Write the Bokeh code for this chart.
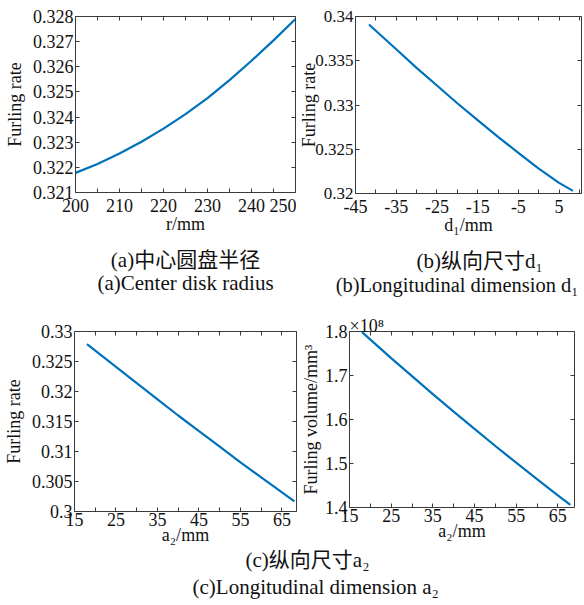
from bokeh.plotting import figure
from bokeh.models import FixedTicker, LinearAxis, Title, Range1d
from bokeh.layouts import column, row
from bokeh.embed import file_html
from bokeh.resources import INLINE

# ---------------- data ----------------
r_mm = [200, 205, 210, 215, 220, 225, 230, 235, 240, 245, 250]
rate_r = [0.32178, 0.32213, 0.32255, 0.32302, 0.32354, 0.32412, 0.32475,
          0.32547, 0.32624, 0.32705, 0.32790]

d1_mm = [-41.7, -35, -30, -25, -20, -15, -10, -5, 0, 5, 8.4]
rate_d1 = [0.3391, 0.3363, 0.3342, 0.3322, 0.3302, 0.3283, 0.3264,
           0.3246, 0.3228, 0.3212, 0.3203]

a2_mm = [18, 25, 30, 35, 40, 45, 50, 55, 60, 65, 68]
rate_a2 = [0.3279, 0.3241, 0.3214, 0.3187, 0.3160, 0.3134, 0.3108,
           0.3082, 0.3057, 0.3032, 0.3017]
vol_a2 = [1.7985e8, 1.7396e8, 1.6984e8, 1.6578e8, 1.6178e8, 1.5785e8,
          1.5398e8, 1.5018e8, 1.4644e8, 1.4277e8, 1.406e8]

r_ticks = [200, 210, 220, 230, 240, 250]
r_labels = ["200", "210", "220", "230", "240", "250"]
r_minor = [205, 215, 225, 235, 245]
rate_r_ticks = [0.321, 0.322, 0.323, 0.324, 0.325, 0.326, 0.327, 0.328]
rate_r_labels = ["0.321", "0.322", "0.323", "0.324", "0.325", "0.326", "0.327", "0.328"]

d1_ticks = [-45, -35, -25, -15, -5, 5]
d1_labels = ["-45", "-35", "-25", "-15", "-5", "5"]
d1_minor = [-40, -30, -20, -10, 0, 10]
rate_d1_ticks = [0.32, 0.325, 0.33, 0.335, 0.34]
rate_d1_labels = ["0.32", "0.325", "0.33", "0.335", "0.34"]

a2_ticks = [15, 25, 35, 45, 55, 65]
a2_labels = ["15", "25", "35", "45", "55", "65"]
a2_minor = [20, 30, 40, 50, 60]
rate_a2_ticks = [0.3, 0.305, 0.31, 0.315, 0.32, 0.325, 0.33]
rate_a2_labels = ["0.3", "0.305", "0.31", "0.315", "0.32", "0.325", "0.33"]
vol_ticks = [1.4e8, 1.5e8, 1.6e8, 1.7e8, 1.8e8]
vol_labels = ["1.4", "1.5", "1.6", "1.7", "1.8"]

SERIF = "Liberation Serif"
CJK = "Liberation Serif, Noto Sans CJK SC"
AX = "#3a3a3a"
TXT = "#111111"
LINE = "#0072BD"


def panel(x, y, xr, yr, xt, xtl, xm, yt, ytl, xlabel, ylabel,
          fw, fh, mbl, mbr, mbt, mbb, ylab_standoff=4,
          xtick_standoff=3, xlab_standoff=2, ytick_size="18px"):
    p = figure(frame_width=fw, frame_height=fh,
               x_range=Range1d(*xr), y_range=Range1d(*yr),
               x_axis_type=None, y_axis_type=None,
               output_backend="svg", toolbar_location=None,
               min_border_left=mbl, min_border_right=mbr,
               min_border_top=mbt, min_border_bottom=mbb,
               outline_line_color=None, background_fill_color="white")
    xtick = FixedTicker(ticks=xt, minor_ticks=xm)
    ytick = FixedTicker(ticks=yt, minor_ticks=[])
    common = dict(axis_line_color=AX, major_tick_line_color=AX,
                  minor_tick_line_color=AX, major_tick_in=4, major_tick_out=0,
                  minor_tick_in=4, minor_tick_out=0)
    xb = LinearAxis(ticker=xtick, axis_label=xlabel,
                    major_label_overrides={v: s for v, s in zip(xt, xtl)},
                    major_label_text_font=SERIF, major_label_text_font_size="18px",
                    major_label_text_color=TXT, major_label_standoff=xtick_standoff,
                    axis_label_text_font=SERIF, axis_label_text_font_size="18px",
                    axis_label_text_font_style="normal", axis_label_text_color=TXT,
                    axis_label_standoff=xlab_standoff, **common)
    yleft = LinearAxis(ticker=ytick, axis_label=ylabel,
                       major_label_overrides={v: s for v, s in zip(yt, ytl)},
                       major_label_text_font=SERIF, major_label_text_font_size=ytick_size,
                       major_label_text_color=TXT, major_label_standoff=2,
                       axis_label_text_font=SERIF, axis_label_text_font_size="18px",
                       axis_label_text_font_style="normal", axis_label_text_color=TXT,
                       axis_label_standoff=ylab_standoff, **common)
    # box ticks on the top and right sides (labels not drawn)
    xtop = LinearAxis(ticker=xtick, major_label_text_font_size="1px",
                      major_label_text_color=None, major_label_standoff=0,
                      axis_label_standoff=0, **common)
    yright = LinearAxis(ticker=ytick, major_label_text_font_size="1px",
                        major_label_text_color=None, major_label_standoff=0,
                        axis_label_standoff=0, **common)
    p.add_layout(xb, "below")
    p.add_layout(yleft, "left")
    p.add_layout(xtop, "above")
    p.add_layout(yright, "right")
    p.line(x, y, line_color=LINE, line_width=2.2)
    return p


pa = panel(r_mm, rate_r, (200, 250), (0.321, 0.328), r_ticks, r_labels, r_minor,
           rate_r_ticks, rate_r_labels, "r/mm", "Furling rate",
           fw=220, fh=176, mbl=75, mbr=1, mbt=16, mbb=108, ylab_standoff=5,
           xtick_standoff=6, xlab_standoff=-1)
pb = panel(d1_mm, rate_d1, (-45, 10.5), (0.32, 0.34), d1_ticks, d1_labels, d1_minor,
           rate_d1_ticks, rate_d1_labels, "d₁/mm", "Furling rate",
           fw=226, fh=177, mbl=55, mbr=7, mbt=15, mbb=108, ylab_standoff=-7,
           xtick_standoff=6, xlab_standoff=-1, ytick_size="17px")
pc = panel(a2_mm, rate_a2, (15, 68.5), (0.3, 0.33), a2_ticks, a2_labels, a2_minor,
           rate_a2_ticks, rate_a2_labels, "a₂/mm", "Furling rate",
           fw=222, fh=180, mbl=73, mbr=1, mbt=27, mbb=42, ylab_standoff=5,
           xtick_standoff=1, xlab_standoff=-4)
pd = panel(a2_mm, vol_a2, (15, 69.0), (1.4e8, 1.8e8), a2_ticks, a2_labels, a2_minor,
           vol_ticks, vol_labels, "a₂/mm", "Furling volume/mm³",
           fw=225, fh=176, mbl=46, mbr=17, mbt=31, mbb=42, ylab_standoff=1,
           xtick_standoff=1, xlab_standoff=-4)

pd.add_layout(Title(text="×10⁸", align="left", text_font=SERIF,
                    text_font_size="18px", text_font_style="normal",
                    text_color=TXT, standoff=-8, offset=0), "above")

cap = dict(text_font_style="normal", text_color=TXT)
pa.add_layout(Title(text="(a)中心圆盘半径", text_font=CJK, text_font_size="21px",
                    align="center", standoff=19, **cap), "below")
pa.add_layout(Title(text="(a)Center disk radius", text_font=SERIF, text_font_size="21px",
                    align="center", standoff=-27, **cap), "below")
pb.add_layout(Title(text="(b)纵向尺寸d₁", text_font=CJK, text_font_size="21px",
                    align="left", offset=61, standoff=19, **cap), "below")
pb.add_layout(Title(text="(b)Longitudinal dimension d₁", text_font=SERIF,
                    text_font_size="20.5px", align="right", offset=3,
                    standoff=-27, **cap), "below")

pcap = figure(width=584, height=56, x_axis_type=None, y_axis_type=None,
              output_backend="svg", toolbar_location=None,
              outline_line_color=None, min_border_left=0, min_border_right=0,
              min_border_top=0, min_border_bottom=0)
pcap.add_layout(Title(text="(c)Longitudinal dimension a₂", text_font=SERIF,
                      text_font_size="21px", align="left", offset=192,
                      standoff=8, **cap), "above")
pcap.add_layout(Title(text="(c)纵向尺寸a₂", text_font=CJK, text_font_size="21px",
                      align="left", offset=245, standoff=-7, **cap), "above")

layout = column(row(pa, pb), row(pc, pd), pcap)
open("out.html", "w").write(file_html(layout, INLINE))
